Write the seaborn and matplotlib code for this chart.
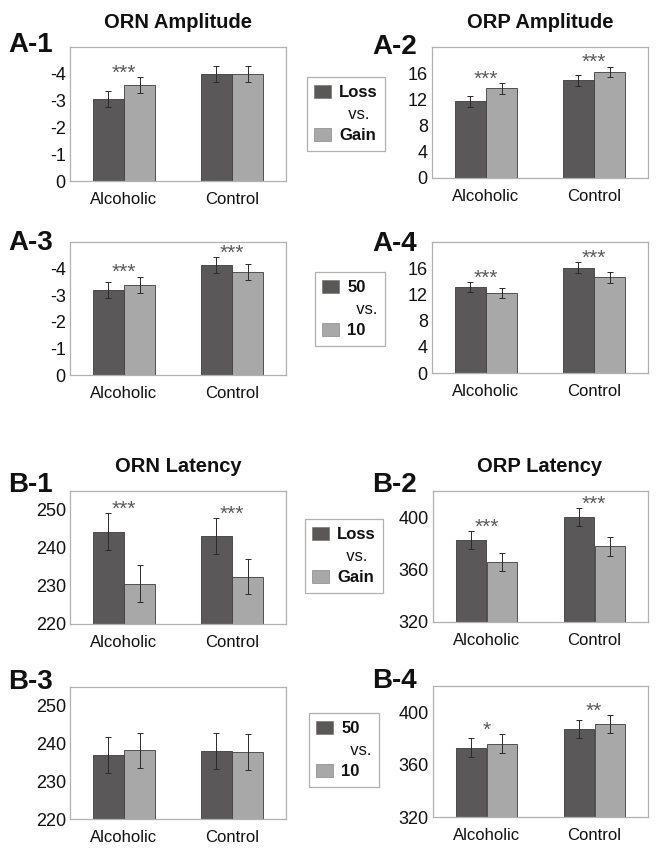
import numpy as np
import pandas as pd
import matplotlib
matplotlib.use("Agg")
import matplotlib.pyplot as plt
import seaborn as sns
from matplotlib.patches import Patch

# ---- data ----
groups = ["Alcoholic", "Control"]

a1_loss = [-3.05, -3.99]
a1_gain = [-3.58, -3.99]
a1_err = [0.30, 0.30]
a1_stars = ["***", ""]

a2_loss = [11.7, 14.9]
a2_gain = [13.7, 16.2]
a2_err = [0.80, 0.80]
a2_stars = ["***", "***"]

a3_50 = [-3.21, -4.12]
a3_10 = [-3.40, -3.89]
a3_err = [0.30, 0.30]
a3_stars = ["***", "***"]

a4_50 = [13.1, 16.1]
a4_10 = [12.2, 14.6]
a4_err = [0.80, 0.80]
a4_stars = ["***", "***"]

b1_loss = [244.3, 243.2]
b1_gain = [230.6, 232.5]
b1_err = [4.8, 4.7]
b1_stars = ["***", "***"]

b2_loss = [382.5, 400.0]
b2_gain = [366.0, 377.7]
b2_err = [7.0, 7.0]
b2_stars = ["***", "***"]

b3_50 = [237.0, 238.0]
b3_10 = [238.2, 237.8]
b3_err = [4.7, 4.7]
b3_stars = ["", ""]

b4_50 = [373.0, 387.2]
b4_10 = [376.0, 390.8]
b4_err = [7.0, 7.0]
b4_stars = ["*", "**"]

amp_orn_ticks = [0, -1, -2, -3, -4]
amp_orp_ticks = [0, 4, 8, 12, 16]
lat_orn_ticks = [220, 230, 240, 250]
lat_orp_ticks = [320, 360, 400]

DARK = "#5b5757"
LIGHT = "#a8a8a8"
EDGE = "#3c3c3c"
FRAME = "#b0b0b0"

W, H = 665, 852

sns.set_style("white")
plt.rcParams["font.family"] = ["Liberation Sans", "DejaVu Sans"]
plt.rcParams["axes.unicode_minus"] = False

fig = plt.figure(figsize=(W / 100, H / 100), dpi=100)


def rect(left, top, right, bottom):
    return [left / W, 1 - bottom / H, (right - left) / W, (bottom - top) / H]


def draw_panel(box, first, second, err, stars, ylim, ticks):
    ax = fig.add_axes(rect(*box))
    df = pd.DataFrame({
        "group": groups * 2,
        "cond": ["a"] * 2 + ["b"] * 2,
        "value": list(first) + list(second),
    })
    sns.barplot(data=df, x="group", y="value", hue="cond",
                palette=[DARK, LIGHT], errorbar=None, width=0.58, gap=0.03,
                edgecolor=EDGE, linewidth=0.6, legend=False, ax=ax)
    bar_sets = list(ax.containers)
    tips = np.zeros((2, 2))
    for k, cont in enumerate(bar_sets):
        vals = (first, second)[k]
        for i, bar in enumerate(cont.patches):
            xc = bar.get_x() + bar.get_width() / 2
            ax.errorbar(xc, vals[i], yerr=err[i], fmt="none", ecolor="#2a2a2a",
                        elinewidth=0.7, capsize=2, capthick=0.7)
            tips[k, i] = abs(vals[i]) + err[i]
    sign = -1 if ylim[1] < ylim[0] else 1
    for i, s in enumerate(stars):
        if s:
            ax.annotate(s, (i, sign * tips[:, i].max()), xytext=(0, -1),
                        textcoords="offset points", ha="center",
                        va="baseline", fontsize=15, color="#5a5a5a")
    ax.set_xlim(-0.5, 1.5)
    ax.set_ylim(*ylim)
    ax.set_yticks(ticks)
    ax.set_yticklabels([str(t) for t in ticks])
    ax.set_xlabel("")
    ax.set_ylabel("")
    ax.set_xticks([0.5], minor=True)
    ax.tick_params(axis="both", which="major", length=0, colors="#111111")
    ax.tick_params(axis="y", pad=3, labelsize=13)
    ax.tick_params(axis="x", pad=8, labelsize=12)
    ax.tick_params(axis="x", which="minor", length=3, direction="in",
                   color=FRAME, width=0.8)
    for sp in ax.spines.values():
        sp.set_visible(True)
        sp.set_color(FRAME)
        sp.set_linewidth(0.9)
    ax.grid(False)
    return ax


draw_panel((70, 47, 286, 181), a1_loss, a1_gain, a1_err, a1_stars, (0, -5), amp_orn_ticks)
draw_panel((432, 47, 648, 178), a2_loss, a2_gain, a2_err, a2_stars, (0, 20), amp_orp_ticks)
draw_panel((70, 242, 286, 375), a3_50, a3_10, a3_err, a3_stars, (0, -5), amp_orn_ticks)
draw_panel((432, 242, 648, 373), a4_50, a4_10, a4_err, a4_stars, (0, 20), amp_orp_ticks)
draw_panel((70, 491, 286, 624), b1_loss, b1_gain, b1_err, b1_stars, (220, 255), lat_orn_ticks)
draw_panel((433, 491, 648, 622), b2_loss, b2_gain, b2_err, b2_stars, (320, 420), lat_orp_ticks)
draw_panel((70, 687, 286, 819), b3_50, b3_10, b3_err, b3_stars, (220, 255), lat_orn_ticks)
draw_panel((433, 686, 648, 817), b4_50, b4_10, b4_err, b4_stars, (320, 420), lat_orp_ticks)

# titles
for txt, x, y in [("ORN Amplitude", 178, 22), ("ORP Amplitude", 540, 22),
                  ("ORN Latency", 178, 466), ("ORP Latency", 540, 466)]:
    fig.text(x / W, 1 - y / H, txt, ha="center", va="center",
             fontsize=14.5, fontweight="bold", color="#111111")

# panel labels
for txt, x, y in [("A-1", 8, 45), ("A-2", 372, 47), ("A-3", 8, 243),
                  ("A-4", 372, 244), ("B-1", 8, 485), ("B-2", 372, 485),
                  ("B-3", 8, 682), ("B-4", 372, 681)]:
    fig.text(x / W, 1 - y / H, txt, ha="left", va="center",
             fontsize=20, fontweight="bold", color="#111111")

# legends between the columns
for a, b, x, y in [("Loss", "Gain", 346, 114), ("50", "10", 350, 309),
                   ("Loss", "Gain", 344, 556), ("50", "10", 344, 750)]:
    handles = [Patch(facecolor=DARK, edgecolor="#777777", linewidth=0.5),
               Patch(facecolor="none", edgecolor="none"),
               Patch(facecolor=LIGHT, edgecolor="#888888", linewidth=0.5)]
    leg = fig.legend(handles, [a, "  vs.", b], loc="center",
                     bbox_to_anchor=(x / W, 1 - y / H),
                     bbox_transform=fig.transFigure, fontsize=12,
                     handlelength=1.0, handleheight=0.85, handletextpad=0.5,
                     labelspacing=0.38, borderpad=0.45, fancybox=False,
                     framealpha=1, edgecolor=FRAME, borderaxespad=0)
    leg.get_frame().set_linewidth(0.9)
    for t, w in zip(leg.get_texts(), ["bold", "normal", "bold"]):
        t.set_fontweight(w)
        t.set_color("#111111")

fig.savefig("out.png", dpi=100)
